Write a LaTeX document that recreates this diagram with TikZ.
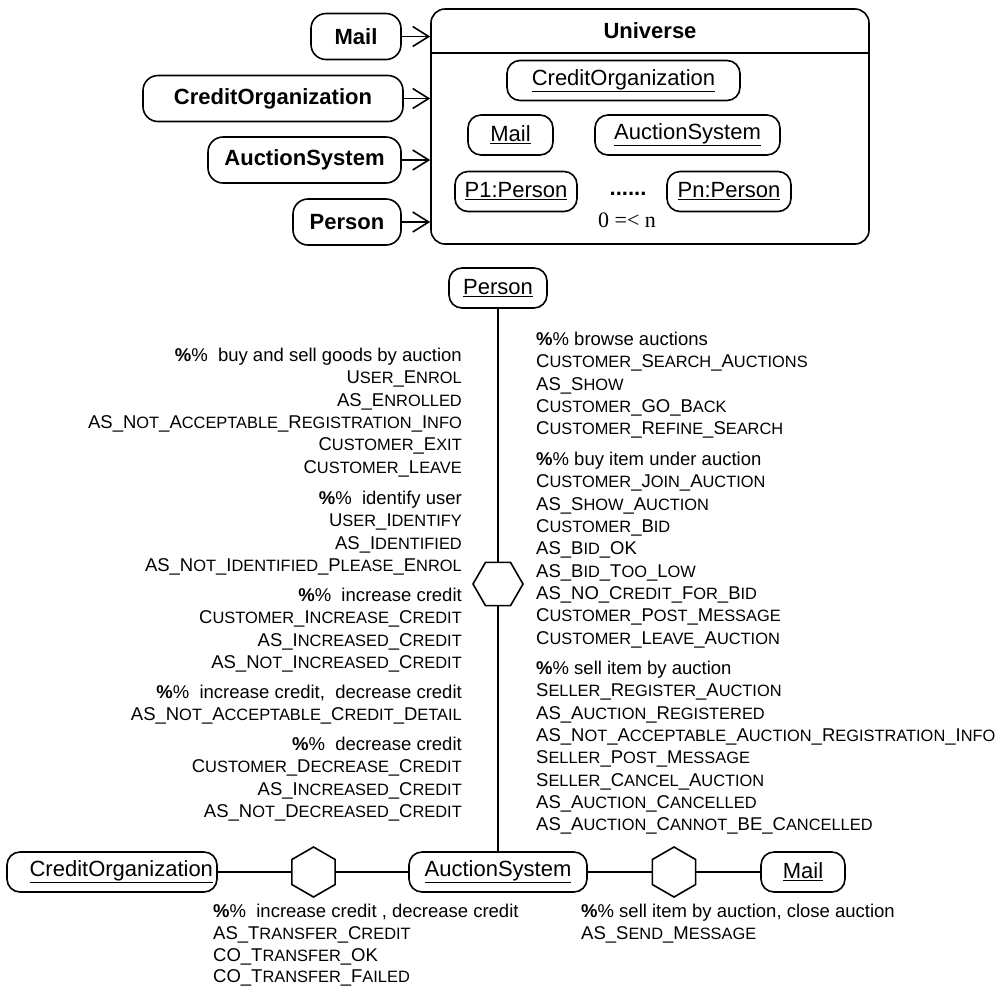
\documentclass[tikz,border=0pt]{standalone}
\usepackage{fontspec}
\setmainfont{Liberation Sans}
\newfontfamily\serifnum{Liberation Serif}
\usetikzlibrary{shapes.geometric,arrows.meta}
\makeatletter
\def\sc@empty{}
\newcommand\scsmall{\fontsize{16.4}{22.3}\selectfont}
\def\SC#1{\sc@loop#1_\sc@end}
\def\sc@loop#1_#2\sc@end{\sc@word#1\relax\ifx\sc@empty#2\sc@empty\else\_\sc@loop#2\sc@end\fi}
\def\sc@word#1#2#3\relax{#1\ifx\relax#3\relax#2\else{\scsmall#2#3}\fi}
\makeatother
\newcommand\pc{\textbf{\%}\%}
\tikzset{
  obj/.style={draw, line width=1.6pt, rounded corners=13pt, inner sep=0pt,
    font=\fontsize{22}{26}\selectfont, minimum height=40pt},
  cls/.style={obj, font=\fontsize{22}{26}\selectfont\bfseries, minimum height=46pt, rounded corners=15pt},
  hexh/.style={draw, line width=1.6pt, regular polygon, regular polygon sides=6,
    minimum size=50pt, inner sep=0pt},
  hexv/.style={hexh, shape border rotate=90},
  msg/.style={inner sep=0pt, font=\fontsize{18.5}{22.3}\selectfont},
  msgb/.style={inner sep=0pt, font=\fontsize{18.5}{21.7}\selectfont},
  conn/.style={line width=1.6pt},
  inst/.style={line width=1.6pt, -{Straight Barb[length=16pt,width=20pt,line width=1.6pt]}}
}
\begin{document}
\begin{tikzpicture}[x=1pt,y=-1pt]
\useasboundingbox (0,0) rectangle (1006,989);

% ---------- Universe ----------
\node[draw, line width=1.6pt, rounded corners=14pt, minimum width=438pt, minimum height=235pt, inner sep=0pt] (U) at (650,126.5) {};
\node[font=\fontsize{22}{26}\selectfont\bfseries, inner sep=0pt] (ut) at (650,31) {Universe};
\coordinate (dv) at (650,53);
\draw[conn] (U.west |- dv) -- (U.east |- dv);

\node[obj, minimum width=233pt] (iCO) at (623.5,80.5) {\underline{CreditOrganization}};
\node[obj, minimum width=85pt] (iMail) at (510.5,135) {\underline{Mail}};
\node[obj, minimum width=185pt] (iAS) at (687.5,135) {\underline{AuctionSystem}};
\node[obj, minimum width=122pt] (iP1) at (516,191.5) {\underline{P1:Person}};
\node[obj, minimum width=124pt] (iPn) at (729,191.5) {\underline{Pn:Person}};
\node[font=\fontsize{22}{26}\selectfont\bfseries, inner sep=0pt] (dots) at (628,194) {......};
\node[font=\fontsize{22}{26}\selectfont\serifnum, inner sep=0pt] (card) at (627,220) {0 =< n};

% ---------- classes ----------
\node[cls, minimum width=90pt] (bMail) at (356,36.5) {Mail};
\node[cls, minimum width=260pt] (bCO) at (273,98.5) {CreditOrganization};
\node[cls, minimum width=193pt] (bAS) at (304.5,160) {AuctionSystem};
\node[cls, minimum width=108pt] (bPerson) at (347,222) {Person};

\draw[inst] (bMail.east) -- (bMail.east -| U.west);
\draw[inst] (bCO.east) -- (bCO.east -| U.west);
\draw[inst] (bAS.east) -- (bAS.east -| U.west);
\draw[inst] (bPerson.east) -- (bPerson.east -| U.west);

% ---------- collaboration ----------
\node[obj, minimum width=98pt] (P) at (498,288) {\underline{Person}};
\node[hexh] (hm) at (498,584) {};
\node[obj, minimum width=210pt, text width=202pt, align=right] (CO) at (112,872) {\underline{CreditOrganization}};
\node[hexv] (h1) at (313.5,872) {};
\node[obj, minimum width=178pt] (AS) at (498,872) {\underline{AuctionSystem}};
\node[hexv] (h2) at (674,872) {};
\node[obj, minimum width=84pt] (M) at (803,872) {\underline{Mail}};

\draw[conn] (P) -- (hm);
\draw[conn] (hm) -- (AS);
\draw[conn] (CO) -- (h1);
\draw[conn] (h1) -- (AS);
\draw[conn] (AS) -- (h2);
\draw[conn] (h2) -- (M);

% ---------- messages, left ----------
\node[msg, anchor=north east, align=right] (l1) at (462,348) {\pc~ buy and sell goods by auction\\
\SC{USER_ENROL}\\ \SC{AS_ENROLLED}\\ \SC{AS_NOT_ACCEPTABLE_REGISTRATION_INFO}\\
\SC{CUSTOMER_EXIT}\\ \SC{CUSTOMER_LEAVE}};
\node[msg, anchor=north east, align=right] (l2) at (462,491) {\pc~ identify user\\
\SC{USER_IDENTIFY}\\ \SC{AS_IDENTIFIED}\\ \SC{AS_NOT_IDENTIFIED_PLEASE_ENROL}};
\node[msg, anchor=north east, align=right] (l3) at (462,588) {\pc~ increase credit\\
\SC{CUSTOMER_INCREASE_CREDIT}\\ \SC{AS_INCREASED_CREDIT}\\ \SC{AS_NOT_INCREASED_CREDIT}};
\node[msg, anchor=north east, align=right] (l4) at (462,685) {\pc~ increase credit,~ decrease credit\\
\SC{AS_NOT_ACCEPTABLE_CREDIT_DETAIL}};
\node[msg, anchor=north east, align=right] (l5) at (462,737) {\pc~ decrease credit\\
\SC{CUSTOMER_DECREASE_CREDIT}\\ \SC{AS_INCREASED_CREDIT}\\ \SC{AS_NOT_DECREASED_CREDIT}};

% ---------- messages, right ----------
\node[msg, anchor=north west, align=left] (r1) at (536,332) {\pc\ browse auctions\\
\SC{CUSTOMER_SEARCH_AUCTIONS}\\ \SC{AS_SHOW}\\ \SC{CUSTOMER_GO_BACK}\\ \SC{CUSTOMER_REFINE_SEARCH}};
\node[msg, anchor=north west, align=left] (r2) at (536,452) {\pc\ buy item under auction\\
\SC{CUSTOMER_JOIN_AUCTION}\\ \SC{AS_SHOW_AUCTION}\\ \SC{CUSTOMER_BID}\\ \SC{AS_BID_OK}\\
\SC{AS_BID_TOO_LOW}\\ \SC{AS_NO_CREDIT_FOR_BID}\\ \SC{CUSTOMER_POST_MESSAGE}\\ \SC{CUSTOMER_LEAVE_AUCTION}};
\node[msg, anchor=north west, align=left] (r3) at (536,661) {\pc\ sell item by auction\\
\SC{SELLER_REGISTER_AUCTION}\\ \SC{AS_AUCTION_REGISTERED}\\ \SC{AS_NOT_ACCEPTABLE_AUCTION_REGISTRATION_INFO}\\
\SC{SELLER_POST_MESSAGE}\\ \SC{SELLER_CANCEL_AUCTION}\\ \SC{AS_AUCTION_CANCELLED}\\ \SC{AS_AUCTION_CANNOT_BE_CANCELLED}};

% ---------- messages, bottom ----------
\node[msgb, anchor=north west, align=left] (b1) at (213,904) {\pc~ increase credit , decrease credit\\
\SC{AS_TRANSFER_CREDIT}\\ \SC{CO_TRANSFER_OK}\\ \SC{CO_TRANSFER_FAILED}};
\node[msgb, anchor=north west, align=left] (b2) at (581,904) {\pc\ sell item by auction, close auction\\
\SC{AS_SEND_MESSAGE}};
\end{tikzpicture}
\end{document}
